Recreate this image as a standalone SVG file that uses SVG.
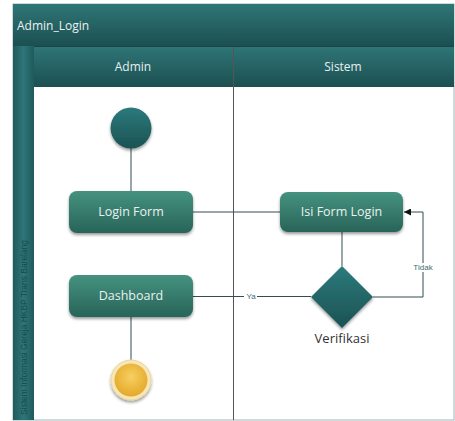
<svg xmlns="http://www.w3.org/2000/svg" width="455" height="421" viewBox="0 0 455 421">
<defs>
<linearGradient id="hdr" x1="0" y1="0" x2="0" y2="1"><stop offset="0" stop-color="#2f7677"/><stop offset="1" stop-color="#1c4f51"/></linearGradient>
<linearGradient id="strip" x1="0" y1="0" x2="1" y2="0"><stop offset="0" stop-color="#1f5a5c"/><stop offset="0.5" stop-color="#2e7679"/><stop offset="1" stop-color="#1f5a5c"/></linearGradient>
<linearGradient id="box" x1="0" y1="0" x2="0" y2="1"><stop offset="0" stop-color="#45927f"/><stop offset="1" stop-color="#286459"/></linearGradient>
<linearGradient id="dark" x1="0" y1="0" x2="0" y2="1"><stop offset="0" stop-color="#2c7a7c"/><stop offset="1" stop-color="#1b5253"/></linearGradient>
<radialGradient id="endg" cx="0.5" cy="0.4" r="0.6"><stop offset="0" stop-color="#f7cf62"/><stop offset="1" stop-color="#e4a92a"/></radialGradient>
<filter id="sh" x="-20%" y="-20%" width="140%" height="150%"><feDropShadow dx="0" dy="2" stdDeviation="1.6" flood-color="#000" flood-opacity="0.4"/></filter>
<marker id="arr" viewBox="0 0 10 10" refX="10" refY="5" markerWidth="7" markerHeight="7" orient="auto-start-reverse" markerUnits="userSpaceOnUse"><path d="M0,0 L10,5 L0,10 z" fill="#111"/></marker>
<style>
.lbl{font-family:"Open Sans","Liberation Sans",sans-serif;fill:#e9f2ef;font-size:12.5px;text-anchor:middle}
.hd{font-family:"Open Sans","Liberation Sans",sans-serif;fill:#e6efee;font-size:12px;text-anchor:middle}
.ln{stroke:#2f4f50;stroke-width:1;fill:none}
.small{font-family:"Liberation Sans",sans-serif;font-size:8px;fill:#3d6e6e;text-anchor:middle}
</style>
</defs>
<rect x="0" y="0" width="455" height="421" fill="#fff"/>
<g id="frame">
<rect x="13" y="4" width="441" height="416" fill="#fff" stroke="#9fb4b4" stroke-width="1"/>
<rect x="13" y="4" width="441" height="42" fill="url(#hdr)"/>
<text x="17" y="30" font-family="Open Sans, Liberation Sans, sans-serif" font-size="12" fill="#e9f2f1">Admin_Login</text>
<rect x="13" y="46" width="21" height="374" fill="url(#strip)"/>
<rect x="34" y="46" width="420" height="41" fill="url(#hdr)"/>
<line x1="233.5" y1="46" x2="233.5" y2="420" stroke="#555" stroke-width="1"/>
<line x1="34" y1="46.5" x2="454" y2="46.5" stroke="#1a4446" stroke-width="1"/>
<text class="hd" x="133" y="71">Admin</text>
<text class="hd" x="343" y="71">Sistem</text>
<text transform="translate(27,415) rotate(-90)" font-family="Liberation Sans, sans-serif" font-size="8.5" fill="#194a4d" textLength="175" lengthAdjust="spacingAndGlyphs">Sistem Informasi Gereja HKBP Trans Barelang</text>
</g>
<g id="connectors">
<line class="ln" x1="131" y1="148" x2="131" y2="191"/>
<line class="ln" x1="193" y1="212" x2="280" y2="212"/>
<line class="ln" x1="342" y1="232" x2="342" y2="266"/>
<path class="ln" d="M373,297 H423 V212 H404" marker-end="url(#arr)"/>
<line class="ln" x1="311" y1="296.5" x2="193" y2="296.5"/>
<line class="ln" x1="131" y1="317" x2="131" y2="362"/>
<rect x="244" y="292" width="13" height="9" fill="#fff"/>
<text class="small" x="251" y="299">Ya</text>
<rect x="413" y="263" width="21" height="9" fill="#fff"/>
<text class="small" x="423" y="270">Tidak</text>
</g>
<g id="start"><circle cx="131" cy="128" r="20.5" fill="url(#dark)" filter="url(#sh)"/></g>
<g id="login-form"><rect x="69" y="191" width="124" height="42" rx="8" fill="url(#box)" filter="url(#sh)"/><text class="lbl" x="131" y="216">Login Form</text></g>
<g id="isi-form-login"><rect x="280" y="192" width="123" height="40" rx="8" fill="url(#box)" filter="url(#sh)"/><text class="lbl" x="341.5" y="216">Isi Form Login</text></g>
<g id="verifikasi"><polygon points="342,266 373,297 342,328 311,297" fill="url(#dark)" filter="url(#sh)"/><text x="342" y="343" font-family="Open Sans, Liberation Sans, sans-serif" font-size="13" fill="#333" text-anchor="middle">Verifikasi</text></g>
<g id="dashboard"><rect x="69" y="275" width="124" height="42" rx="8" fill="url(#box)" filter="url(#sh)"/><text class="lbl" x="131" y="300">Dashboard</text></g>
<g id="end"><circle cx="131" cy="380" r="20" fill="#f6e6b8" stroke="#ead79e" stroke-width="1" filter="url(#sh)"/><circle cx="131" cy="380" r="16.5" fill="url(#endg)"/></g>
</svg>
